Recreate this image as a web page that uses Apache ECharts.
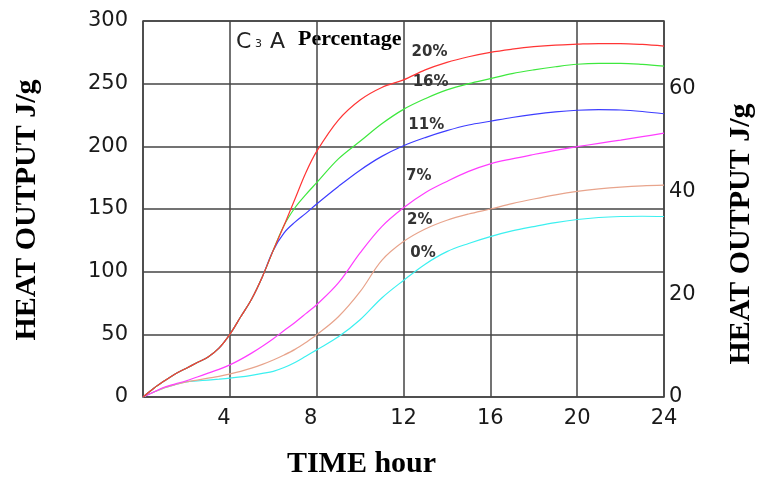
<!DOCTYPE html>
<html>
<head>
<meta charset="utf-8">
<script src="https://cdn.jsdelivr.net/npm/echarts@6/dist/echarts.min.js"></script>
<style>
  html, body { margin: 0; padding: 0; background: #fff; }
  #chart { width: 759px; height: 477px; }
</style>
</head>
<body>
<div id="chart"></div>
<script>
// time axis (hour) shared by all curves
var hours = [0, 0.5, 1, 1.5, 2, 2.5, 3, 3.5, 4, 4.5, 5, 5.5, 6, 6.5, 7, 7.5, 8, 9, 10, 11, 12, 13, 14, 15, 16, 17, 18, 19, 20, 21, 22, 23, 24];

// heat output J/g, one list per C3A percentage
var c3a20 = [0, 7, 13, 18.5, 23, 27.5, 32, 39, 50, 64, 78, 96, 117, 137, 158, 179, 196, 221, 237, 247, 253, 261, 267, 271.5, 275, 277.5, 279.5, 280.8, 281.5, 282, 282, 281.3, 280];
var c3a16 = [0, 7, 13, 18.5, 23, 27.5, 32, 39, 50, 64, 78, 96, 117, 137, 151, 161.5, 171, 190, 204, 218, 229.5, 238, 245, 250, 254, 258, 261, 263.5, 265.5, 266.2, 266.2, 265.4, 264];
var c3a11 = [0, 7, 13, 18.5, 23, 27.5, 32, 39, 50, 64, 78, 96, 117, 131, 139.5, 146.5, 154, 168, 181, 192, 200.5, 207, 212.5, 217, 220, 223, 225.5, 227.5, 228.8, 229.3, 229, 227.8, 226];
var c3a7  = [0, 4, 8, 10.5, 13, 16, 19, 22, 25.6, 30, 35, 40.5, 46.5, 53, 59.5, 66.5, 73.6, 91, 115, 136, 151, 163, 172, 180, 186, 190, 193.5, 196.8, 199.7, 202.4, 205, 207.7, 210.5];
var c3a2  = [0, 4, 7.5, 10, 12, 13.5, 15, 16.5, 18.4, 20.5, 23, 26, 29.5, 33.5, 38, 43.5, 49.6, 64, 84, 109, 124, 134, 141, 146, 150, 154.3, 158, 161.3, 164, 166, 167.5, 168.5, 169];
var c3a0  = [0, 4, 7.5, 10, 12, 12.8, 13.5, 14.2, 15, 16, 17.3, 18.8, 20.5, 23.5, 27.5, 32.5, 37.6, 48, 61.6, 79, 93, 106, 116, 122.5, 128, 132.5, 136, 139.2, 141.6, 143.2, 144, 144.2, 144];

var seriesNames = ['20%', '16%', '11%', '7%', '2%', '0%'];
var seriesValues = [c3a20, c3a16, c3a11, c3a7, c3a2, c3a0];
var seriesColors = ['#ff3535', '#3ee83e', '#3d3dff', '#ff3dff', '#e8a48c', '#3cf0f0'];

// where each percentage label sits (hour, J/g)
var labelHours = [13.2, 13.25, 13.05, 12.7, 12.75, 12.9];
var labelValues = [275, 251, 217, 176, 141, 115];

var chart = echarts.init(document.getElementById('chart'));

var series = seriesNames.map(function (name, i) {
    return {
        name: name,
        type: 'line',
        z: 10 - i,   // red on top, like the original
        smooth: 0.35,
        symbol: 'none',
        lineStyle: { color: seriesColors[i], width: 1.2 },
        data: hours.map(function (h, j) { return [h, seriesValues[i][j]]; }),
        markPoint: {
            symbol: 'circle',
            symbolSize: 1,
            itemStyle: { color: 'rgba(0,0,0,0)' },
            label: {
                show: true,
                position: 'inside',
                formatter: name,
                color: '#333',
                fontFamily: 'DejaVu Sans',
                fontSize: 15,
                fontWeight: 'bold'
            },
            data: [{ coord: [labelHours[i], labelValues[i]] }]
        }
    };
});

var labelFont = { color: '#1a1a1a', fontFamily: 'DejaVu Sans', fontSize: 21 };

chart.setOption({
    animation: false,
    backgroundColor: '#fff',
    grid: {
        left: 143, right: 95, top: 21, bottom: 80,
        show: true, borderColor: '#444', borderWidth: 1.5
    },
    xAxis: {
        type: 'value',
        min: 0, max: 24, interval: 4,
        axisLine: { show: false },
        axisTick: { show: false },
        axisLabel: {
            showMinLabel: false,
            margin: 11,
            color: '#1a1a1a', fontFamily: 'DejaVu Sans', fontSize: 21,
            formatter: function (v) { return v < 10 ? '{s|' + v + '}' : '' + v; },
            rich: { s: { color: '#1a1a1a', fontFamily: 'DejaVu Sans', fontSize: 21, padding: [0, 12, 0, 0] } }
        },
        splitLine: { lineStyle: { color: '#444', width: 1.5 } }
    },
    yAxis: [{
        type: 'value',
        min: 0, max: 300, interval: 50,
        axisLine: { show: false },
        axisTick: { show: false },
        axisLabel: Object.assign({ margin: 15 }, labelFont),
        splitLine: { lineStyle: { color: '#444', width: 1.5 } }
    }, {
        type: 'value',
        position: 'right',
        min: 0, max: 73.1, interval: 20,
        axisLine: { show: false },
        axisTick: { show: false },
        axisLabel: Object.assign({ margin: 5, showMaxLabel: false }, labelFont),
        splitLine: { show: false }
    }],
    graphic: [
        {
            type: 'text', x: 27, y: 210, rotation: Math.PI / 2,
            style: { text: 'HEAT OUTPUT J/g', font: 'bold 30px "Liberation Serif"', fill: '#000', textAlign: 'center', textVerticalAlign: 'middle' }
        },
        {
            type: 'text', x: 741, y: 234, rotation: Math.PI / 2,
            style: { text: 'HEAT OUTPUT J/g', font: 'bold 30px "Liberation Serif"', fill: '#000', textAlign: 'center', textVerticalAlign: 'middle' }
        },
        {
            type: 'text', x: 361.5, y: 464,
            style: { text: 'TIME hour', font: 'bold 30px "Liberation Serif"', fill: '#000', textAlign: 'center', textVerticalAlign: 'middle' }
        },
        {
            type: 'text', x: 236, y: 42,
            style: { text: 'C', font: '22px "DejaVu Sans"', fill: '#222', textAlign: 'left', textVerticalAlign: 'middle' }
        },
        {
            type: 'text', x: 255, y: 44,
            style: { text: '3', font: '11px "DejaVu Sans"', fill: '#222', textAlign: 'left', textVerticalAlign: 'middle' }
        },
        {
            type: 'text', x: 270, y: 42,
            style: { text: 'A', font: '22px "DejaVu Sans"', fill: '#222', textAlign: 'left', textVerticalAlign: 'middle' }
        },
        {
            type: 'text', x: 298, y: 39,
            style: { text: 'Percentage', font: 'bold 22px "Liberation Serif"', fill: '#000', textAlign: 'left', textVerticalAlign: 'middle' }
        }
    ],
    series: series
});
</script>
</body>
</html>
